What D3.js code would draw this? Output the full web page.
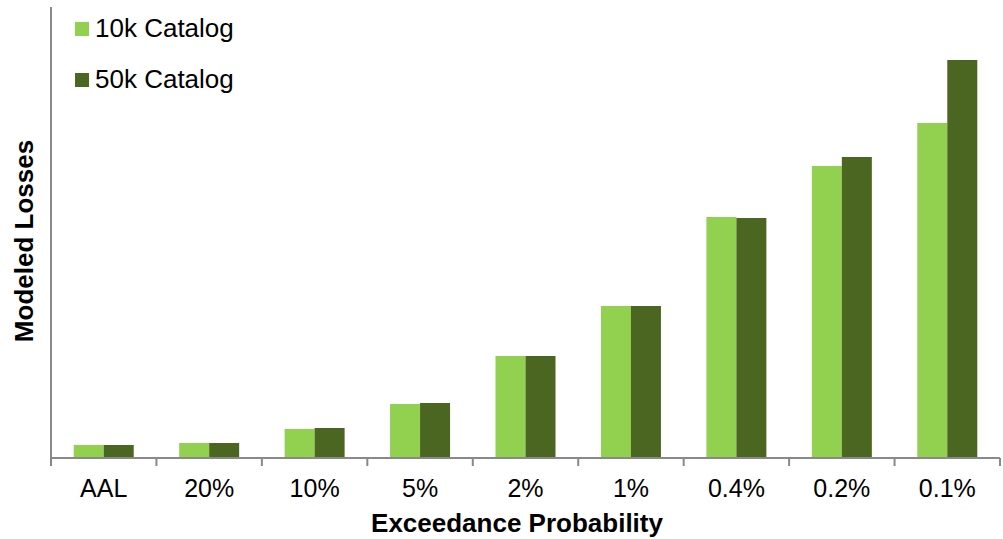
<!DOCTYPE html>
<html>
<head>
<meta charset="utf-8">
<script src="https://cdn.jsdelivr.net/npm/d3@7"></script>
<style>
  html, body { margin: 0; padding: 0; background: #fff; }
  svg { display: block; font-family: "Liberation Sans", Arial, sans-serif; }
</style>
</head>
<body>
<svg id="chart" width="1003" height="539"></svg>
<script>
const categories = ["AAL", "20%", "10%", "5%", "2%", "1%", "0.4%", "0.2%", "0.1%"];
const seriesNames = ["10k Catalog", "50k Catalog"];
const catalog10k = [13, 15, 29, 54, 102, 152, 241, 292, 335];
const catalog50k = [13, 15, 30, 55, 102, 152, 240, 301, 398];
const colors = ["#92D050", "#4A6621"];
const yMax = 451;

(function () {
const svg = d3.select("#chart");
const mLeft = 51, mRight = 1000, mTop = 7, mBottom = 458;

const x = d3.scaleBand().domain(categories).range([mLeft, mRight])
  .paddingInner(0.431).paddingOuter(0.2155);
const xs = d3.scaleBand().domain(seriesNames).range([0, x.bandwidth()]);
const y = d3.scaleLinear().domain([0, yMax]).range([mBottom, mTop]);

const series = [catalog10k, catalog50k];

// bars
const g = svg.append("g");
series.forEach((vals, si) => {
  g.selectAll(null).data(categories).enter().append("rect")
    .attr("x", c => x(c) + xs(seriesNames[si]))
    .attr("y", (c, i) => y(vals[i]))
    .attr("width", xs.bandwidth())
    .attr("height", (c, i) => y(0) - y(vals[i]))
    .attr("fill", colors[si]);
});

const axisColor = "#898989";

// x axis with labels
const xAxis = svg.append("g").attr("transform", `translate(0,${mBottom})`)
  .call(d3.axisBottom(x).tickSize(0).tickPadding(0));
xAxis.select(".domain").remove();
xAxis.selectAll("text")
  .attr("y", 39).attr("dy", null)
  .attr("fill", "#000")
  .style("font-size", "25px")
  .style("font-family", "'Liberation Sans', Arial, sans-serif");

// boundary ticks
const step = x.step();
const boundaries = d3.range(categories.length + 1).map(i => x(categories[0]) - (step - x.bandwidth()) / 2 + i * step);
svg.append("g").selectAll("line").data(boundaries).enter().append("line")
  .attr("x1", d => d).attr("x2", d => d)
  .attr("y1", mBottom).attr("y2", mBottom + 8)
  .attr("stroke", axisColor).attr("stroke-width", 2);

// axis lines
svg.append("line").attr("x1", mLeft).attr("x2", mRight).attr("y1", mBottom).attr("y2", mBottom)
  .attr("stroke", axisColor).attr("stroke-width", 2);
svg.append("line").attr("x1", mLeft).attr("x2", mLeft).attr("y1", mTop).attr("y2", mBottom)
  .attr("stroke", axisColor).attr("stroke-width", 2);

// axis titles
svg.append("text").attr("x", 517).attr("y", 532)
  .attr("text-anchor", "middle").style("font-size", "26px").style("font-weight", "bold")
  .text("Exceedance Probability");
svg.append("text").attr("transform", "translate(33,241) rotate(-90)")
  .attr("text-anchor", "middle").style("font-size", "26px").style("font-weight", "bold")
  .text("Modeled Losses");

// legend
const legend = svg.append("g");
seriesNames.forEach((name, i) => {
  const ly = 22 + i * 51;
  legend.append("rect").attr("x", 75).attr("y", ly).attr("width", 14).attr("height", 14)
    .attr("fill", colors[i]);
  legend.append("text").attr("x", 95).attr("y", ly + 15)
    .style("font-size", "26px").attr("fill", "#000").text(name);
});
})();
</script>
</body>
</html>
